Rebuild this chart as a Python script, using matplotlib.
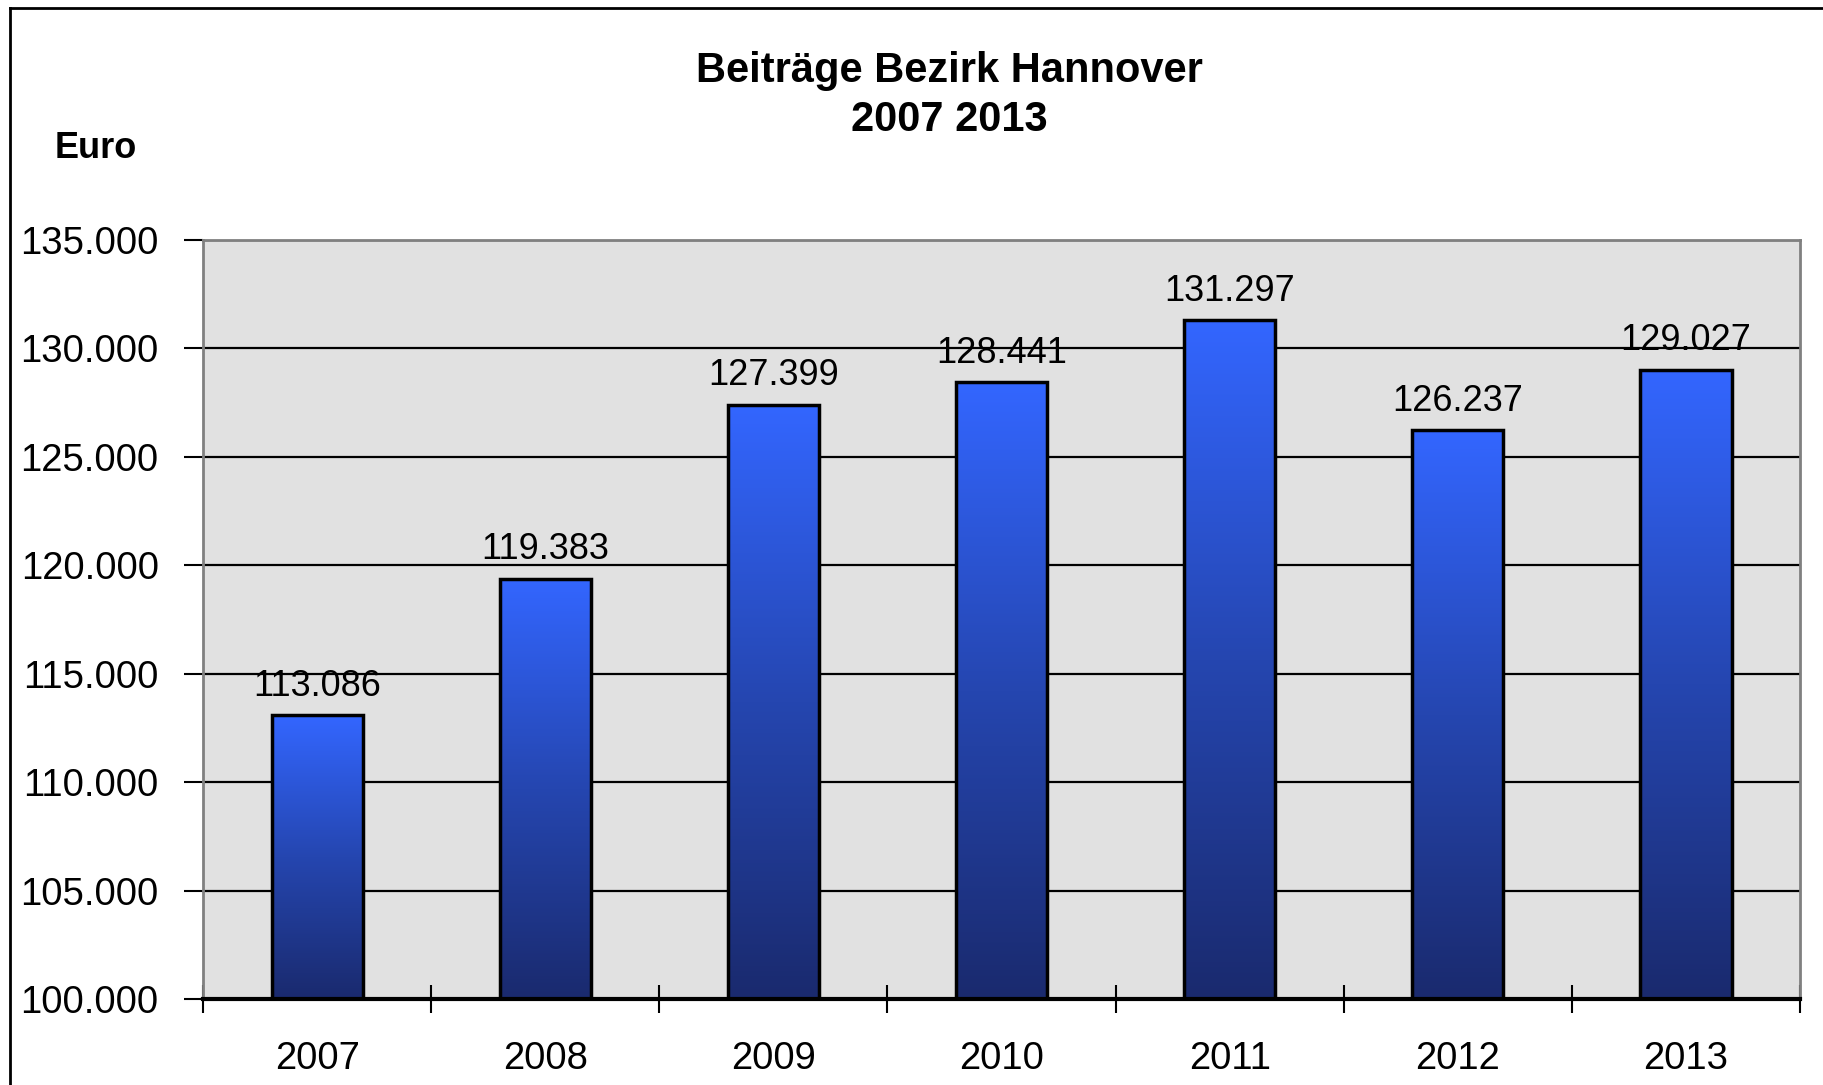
import numpy as np
import matplotlib
matplotlib.use("Agg")
import matplotlib.pyplot as plt
import matplotlib.ticker as ticker
from matplotlib.colors import LinearSegmentedColormap
from matplotlib.lines import Line2D

# data
years = ["2007", "2008", "2009", "2010", "2011", "2012", "2013"]
beitraege = [113086, 119383, 127399, 128441, 131297, 126237, 129027]
value_labels = ["113.086", "119.383", "127.399", "128.441", "131.297", "126.237", "129.027"]

plt.rcParams['font.family'] = ['Liberation Sans', 'DejaVu Sans']

fig = plt.figure(figsize=(18.23, 10.85), dpi=100)
ax = fig.add_axes([0.1114, 0.0793, 0.9874 - 0.1114, 0.7788 - 0.0793])
ax.set_facecolor("#e1e1e1")

ymin, ymax = 100000, 135000
ax.set_ylim(ymin, ymax)
ax.set_xlim(-0.5, len(years) - 0.5)

cmap = LinearSegmentedColormap.from_list("bluegrad", ["#1a2a6e", "#2546b0", "#3366ff"])
grad = np.linspace(0, 1, 256).reshape(-1, 1)

x = np.arange(len(years))
bars = ax.bar(x, np.array(beitraege) - ymin, bottom=ymin, width=0.4,
              color="none", edgecolor="black", linewidth=2.5, zorder=3)
for b in bars:
    x0, y0 = b.get_x(), b.get_y()
    w, h = b.get_width(), b.get_height()
    im = ax.imshow(grad, cmap=cmap, origin="lower", aspect="auto",
                   extent=[x0, x0 + w, y0, y0 + h], zorder=2)
    im.set_clip_path(b)

for xi, v, lab in zip(x, beitraege, value_labels):
    ax.annotate(lab, (xi, v), xytext=(0, 14), textcoords="offset points",
                ha="center", va="baseline", fontsize=26, zorder=4)

# grid
ax.yaxis.set_major_locator(ticker.MultipleLocator(5000))
ax.yaxis.set_major_formatter(ticker.FuncFormatter(lambda v, p: f"{int(v):,}".replace(",", ".")))
ax.grid(axis="y", color="black", linewidth=1.6, zorder=1)
ax.set_axisbelow(True)

# x ticks at category boundaries, labels centered
ax.set_xticks(np.arange(-0.5, len(years)), minor=False)
ax.set_xticklabels([])
ax.set_xticks(x, minor=True)
ax.set_xticklabels(years, minor=True)
ax.tick_params(axis="x", which="major", direction="inout", length=20, width=1.5)
ax.tick_params(axis="x", which="minor", length=0, pad=30, labelsize=27.5)
ax.tick_params(axis="y", direction="out", length=14, width=1.5, pad=18, labelsize=27.5)

for s in ["top", "right", "left"]:
    ax.spines[s].set_color("#808080")
    ax.spines[s].set_linewidth(2)
ax.spines["bottom"].set_color("black")
ax.spines["bottom"].set_linewidth(3)
ax.spines["bottom"].set_zorder(5)

# title and unit
fig.text(0.5206, 0.912, "Beiträge Bezirk Hannover\n2007 2013", ha="center", va="center",
         fontsize=30, fontweight="bold", linespacing=1.3)
fig.text(0.030, 0.863, "Euro", ha="left", va="center", fontsize=26, fontweight="bold")

# outer frame (left and top only visible)
fig.add_artist(Line2D([0.0055, 0.0055], [0, 0.9926], transform=fig.transFigure, color="black", linewidth=2))
fig.add_artist(Line2D([0.0055, 1.0], [0.9926, 0.9926], transform=fig.transFigure, color="black", linewidth=2))

fig.savefig("out.png", dpi=100)
